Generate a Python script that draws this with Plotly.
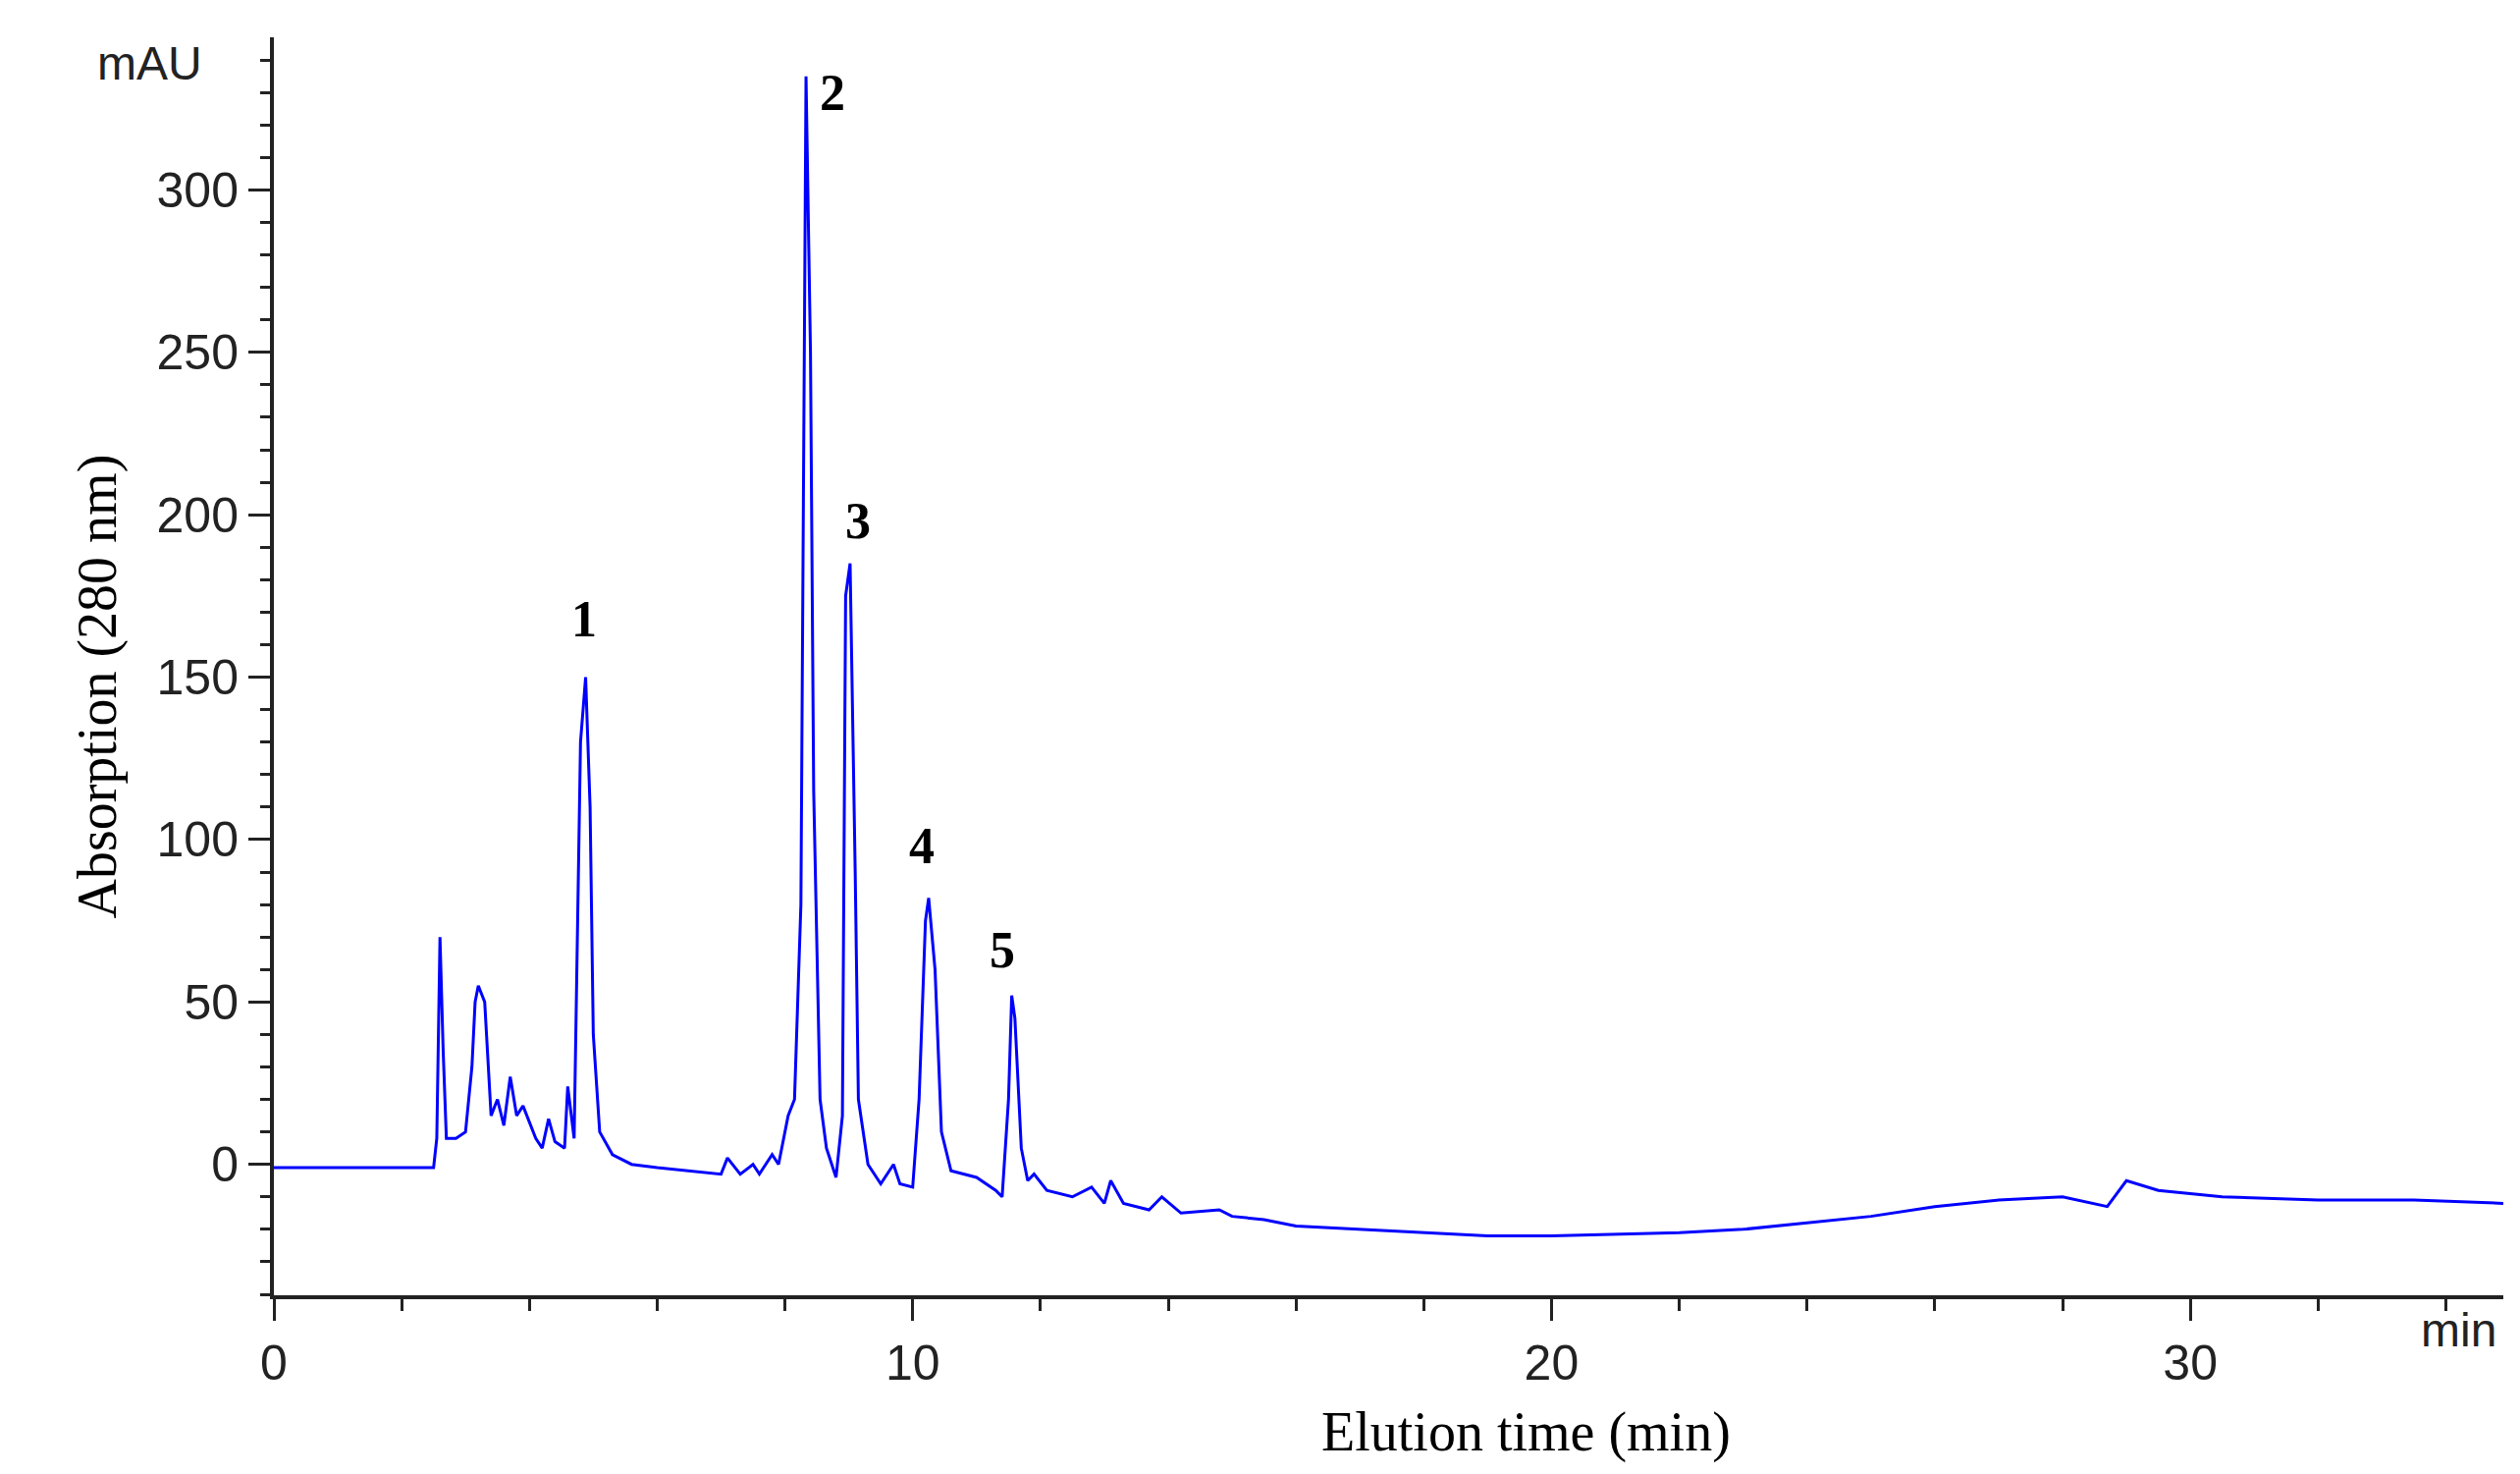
import plotly.graph_objects as go

# chromatogram (time in min, absorption in mAU)
time = [0, 1.0, 2.5, 2.55, 2.6, 2.65, 2.7, 2.85, 3.0, 3.1, 3.15, 3.2, 3.3, 3.4, 3.5, 3.6, 3.7, 3.8, 3.9,
        4.1, 4.2, 4.3, 4.4, 4.55, 4.6, 4.7, 4.8, 4.88, 4.95, 5.0, 5.1, 5.3, 5.6, 6.0, 6.5, 7.0, 7.1,
        7.3, 7.5, 7.6, 7.8, 7.9, 8.05, 8.15, 8.25, 8.33, 8.4, 8.45, 8.55, 8.65, 8.8, 8.9, 8.95, 9.02,
        9.1, 9.15, 9.3, 9.5, 9.7, 9.8, 10.0, 10.1, 10.2, 10.25, 10.35, 10.45, 10.6, 11.0, 11.3, 11.4,
        11.5, 11.55, 11.6, 11.7, 11.8, 11.9, 12.1, 12.5, 12.8, 13.0, 13.1, 13.3, 13.7, 13.9, 14.2,
        14.8, 15.0, 15.5, 16.0, 17.0, 18.0, 19.0, 20.0, 22.0, 23.0, 24.0, 25.0, 26.0, 27.0, 28.0,
        28.7, 29.0, 29.5, 30.5, 32.0, 33.5, 34.9]
absorb = [-1, -1, -1, 8, 70, 35, 8, 8, 10, 30, 50, 55, 50, 15, 20, 12, 27, 15, 18,
          8, 5, 14, 7, 5, 24, 8, 130, 150, 110, 40, 10, 3, 0, -1, -2, -3, 2,
          -3, 0, -3, 3, 0, 15, 20, 80, 335, 250, 115, 20, 5, -4, 15, 175, 185,
          90, 20, 0, -6, 0, -6, -7, 20, 75, 82, 60, 10, -2, -4, -8, -10,
          20, 52, 45, 5, -5, -3, -8, -10, -7, -12, -5, -12, -14, -10, -15,
          -14, -16, -17, -19, -20, -21, -22, -22, -21, -20, -18, -16, -13, -11, -10,
          -13, -5, -8, -10, -11, -11, -12]

peak_labels = ["1", "2", "3", "4", "5"]
peak_x = [4.85, 8.75, 9.15, 10.15, 11.4]
peak_y = [168, 330, 198, 98, 66]

fig = go.Figure(go.Scatter(x=time, y=absorb, mode="lines",
                           line=dict(color="#0000ff", width=3), showlegend=False))

for lab, px_, py_ in zip(peak_labels, peak_x, peak_y):
    fig.add_annotation(x=px_, y=py_, text="<b>" + lab + "</b>", showarrow=False,
                       font=dict(family="Liberation Serif", size=52, color="black"))

fig.add_annotation(x=-0.08, y=339, xref="paper", yref="y", text="mAU", showarrow=False,
                   font=dict(family="Liberation Sans", size=48, color="#222"))
fig.add_annotation(x=34.2, y=-0.05, xref="x", yref="paper", text="min", showarrow=False,
                   font=dict(family="Liberation Sans", size=48, color="#222"))
fig.add_annotation(x=19.6, y=-0.135, xref="x", yref="paper", text="Elution time (min)",
                   showarrow=False, font=dict(family="Liberation Serif", size=56, color="black"))
fig.add_annotation(x=-0.094, y=147, xref="paper", yref="y", text="Absorption (280 nm)",
                   textangle=-90, showarrow=False,
                   font=dict(family="Liberation Serif", size=56, color="black"))

fig.update_xaxes(range=[0, 34.9], tickvals=[0, 10, 20, 30], ticks="outside", ticklen=22,
                 tickwidth=3, tickcolor="#222", showline=True, linecolor="#222", linewidth=4,
                 showgrid=False, zeroline=False,
                 tickfont=dict(family="Liberation Sans", size=50, color="#222"),
                 minor=dict(dtick=2, ticks="outside", ticklen=12, tickwidth=3, tickcolor="#222"))
fig.update_yaxes(range=[-40.3, 347], tickvals=[0, 50, 100, 150, 200, 250, 300], ticks="outside",
                 ticklen=22, tickwidth=3, tickcolor="#222", showline=True, linecolor="#222",
                 linewidth=4, showgrid=False, zeroline=False,
                 tickfont=dict(family="Liberation Sans", size=50, color="#222"),
                 minor=dict(dtick=10, ticks="outside", ticklen=10, tickwidth=3, tickcolor="#222"))
fig.update_layout(width=2567, height=1501, plot_bgcolor="white", paper_bgcolor="white",
                  margin=dict(l=271, r=25, t=30, b=190))
fig.write_html("out.html")
